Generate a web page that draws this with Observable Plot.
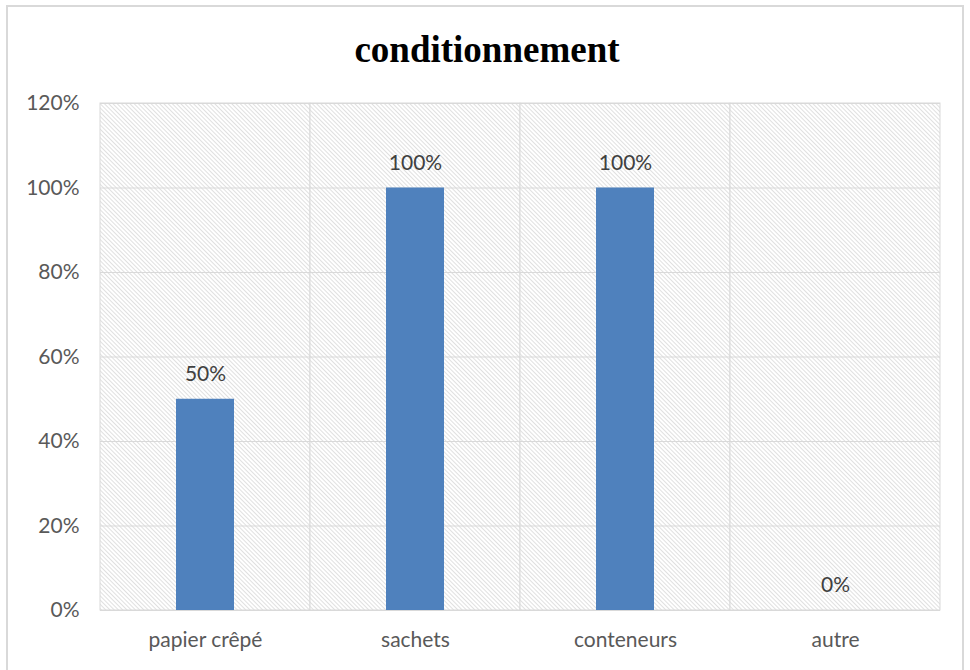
<!DOCTYPE html>
<html>
<head>
<meta charset="utf-8">
<script src="https://cdn.jsdelivr.net/npm/d3@7"></script>
<script src="https://cdn.jsdelivr.net/npm/@observablehq/plot@0.6"></script>
<style>
  html, body { margin: 0; padding: 0; background: #fff; }
  #page { position: relative; width: 970px; height: 670px; overflow: hidden; }
  #border { position: absolute; left: 6px; top: 5px; width: 958px; height: 700px; border: 2px solid #d9d9d9; box-sizing: border-box; }
  #title { position: absolute; left: 2px; top: 30px; width: 970px; text-align: center;
           font: bold 37px/40px "Liberation Serif", "Times New Roman", serif; color: #000; }
  #chart { position: absolute; left: 0; top: 0; }
</style>
</head>
<body>
<div id="page">
  <div id="border"></div>
  <div id="chart"></div>
  <div id="title">conditionnement</div>
</div>
<script>
// Share of each packaging type
const categories = ["papier crêpé", "sachets", "conteneurs", "autre"];
const values = [50, 100, 100, 0];
const yTicks = [0, 20, 40, 60, 80, 100, 120];

const data = categories.map((c, i) => ({cat: c, value: values[i]}));
const pct = d => `${d}%`;

const chart = Plot.plot({
  width: 970,
  height: 670,
  marginTop: 103,
  marginLeft: 100,
  marginRight: 30,
  marginBottom: 60,
  style: {fontFamily: "Lato, 'Noto Sans', sans-serif", fontSize: "21px", color: "#595959", background: "transparent"},
  x: {domain: categories, padding: 0, label: null},
  y: {domain: [0, 120], label: null},
  marks: [
    // hatched plot background, one cell per category (outlines give the separators)
    Plot.barY(categories, {x: d => d, y1: 0, y2: 120, fill: "url(#hatch)", stroke: "#d9d9d9", strokeWidth: 1}),
    Plot.gridY(yTicks, {stroke: "#d9d9d9", strokeOpacity: 1}),
    Plot.barY(data, {x: "cat", y: "value", fill: "#4f81bd", insetLeft: 76, insetRight: 76}),
    Plot.text(data, {x: "cat", y: "value", text: d => pct(d.value), dy: -25, fill: "#404040", fontSize: 21}),
    Plot.axisY({ticks: yTicks, tickSize: 0, tickPadding: 21, tickFormat: pct}),
    Plot.axisX({tickSize: 0, tickPadding: 22})
  ]
});

// diagonal hatch pattern used by the plot background
const svg = d3.select(chart);
const pattern = svg.insert("defs", ":first-child")
  .append("pattern")
  .attr("id", "hatch")
  .attr("patternUnits", "userSpaceOnUse")
  .attr("width", 3)
  .attr("height", 3)
  .attr("patternTransform", "rotate(-45)");
pattern.append("rect").attr("width", 3).attr("height", 3).attr("fill", "#ffffff");
pattern.append("line").attr("x1", 0.5).attr("y1", 0).attr("x2", 0.5).attr("y2", 3)
  .attr("stroke", "#e0e0e0").attr("stroke-width", 1);

document.getElementById("chart").appendChild(chart);
</script>
</body>
</html>
